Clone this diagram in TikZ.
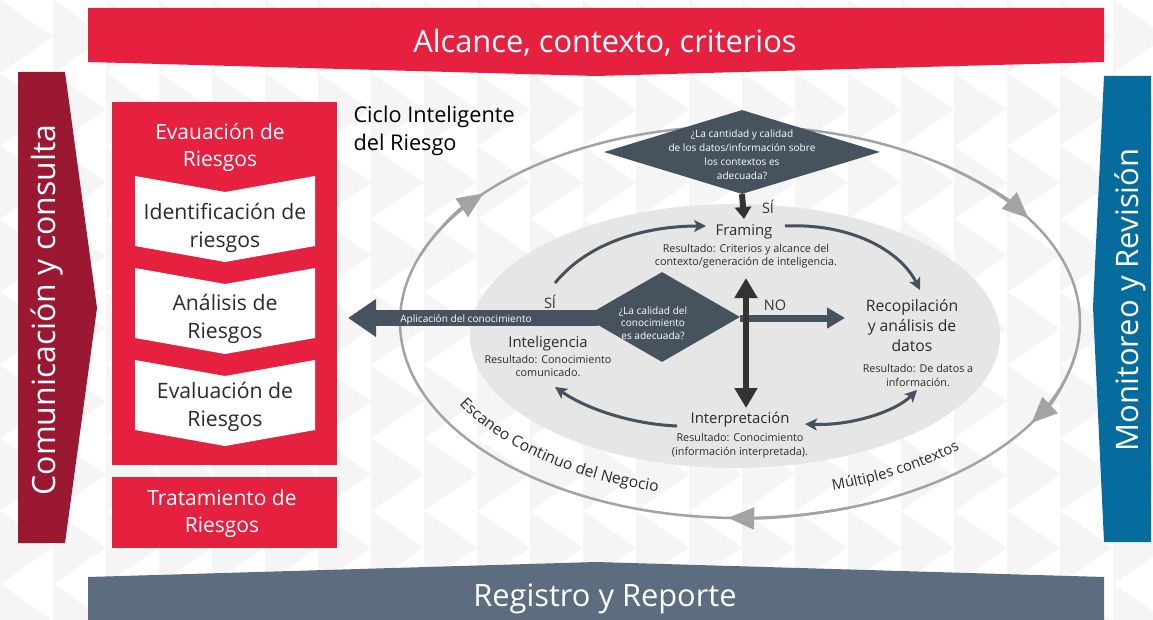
\documentclass[tikz,border=0pt]{standalone}
\usepackage{fontspec}
\setmainfont{Open Sans}
\usetikzlibrary{arrows.meta,decorations.text,shapes.geometric,calc}
\definecolor{cred}{HTML}{E5213F}
\definecolor{cdred}{HTML}{9A1832}
\definecolor{cblue}{HTML}{066B9D}
\definecolor{cslate}{HTML}{5B6D7F}
\definecolor{cdia}{HTML}{46525E}
\definecolor{cring}{HTML}{A3A3A3}
\definecolor{cinner}{HTML}{E6E6E6}
\definecolor{ctext}{HTML}{2B2B2B}
\definecolor{cblk}{HTML}{333333}
\definecolor{cpat}{HTML}{F5F5F5}
\newcommand{\fsz}[2]{\fontsize{#1}{#2}\selectfont}
\tikzset{
  bigtxt/.style={text=white, font=\fsz{30.8}{34}},
  boxtxt/.style={text=ctext, align=center, font=\fsz{21.2}{27.5}},
  redtxt/.style={text=white, align=center, font=\fsz{21}{27}},
  lbl/.style={text=ctext, align=center, font=\fsz{14.9}{20}},
  res/.style={text=ctext, align=center, font=\fsz{10.8}{13.5}},
  cyc/.style={draw=cdia, line width=3pt, -{Stealth[length=12pt,width=12pt,inset=3pt]}},
  ringarrow/.style={draw=cring, line width=2.5pt, -{Triangle[length=26pt,width=22pt]}},
}
\begin{document}
\begin{tikzpicture}[x=1pt,y=-1pt]
\useasboundingbox (0,0) rectangle (1153,620);
\fill[white] (0,0) rectangle (1153,620);
% background chevrons
\foreach \i in {0,...,21}{
  \foreach \j in {0,...,8}{
    \fill[cpat] (\i*53,\j*73) -- (\i*53+53,\j*73+36.5) -- (\i*53,\j*73+73) -- cycle;
  }
}
% banners
\fill[cred] (88,8) -- (1104,8) -- (1104,62) -- (596,76) -- (88,62) -- cycle;
\node[bigtxt] (alc) at (605,43) {Alcance, contexto, criterios};
\fill[cslate] (88,577) -- (596,562) -- (1104,577) -- (1104,620) -- (88,620) -- cycle;
\node[bigtxt] (reg) at (605,599) {Registro y Reporte};
\fill[cdred] (18,72) -- (65,72) -- (97,308) -- (65,543) -- (18,543) -- cycle;
\node[text=white, font=\fsz{32}{34}, rotate=90] (com) at (47,310) {Comunicación y consulta};
\fill[cblue] (1104,76) -- (1151,76) -- (1151,542) -- (1104,542) -- (1093,307) -- cycle;
\node[text=white, font=\fsz{31}{32}, rotate=90] (mon) at (1130,300) {Monitoreo y Revisión};
% left column
\fill[cred] (112,102) rectangle (337,465);
\node[redtxt] (eval) at (220,147) {Evauación de\\Riesgos};
\foreach \T in {176,268,360}{
  \fill[white] (135,\T) -- (225,\T+16) -- (315,\T) -- (315,\T+70) -- (225,\T+86) -- (135,\T+70) -- cycle;
}
\node[boxtxt] (b1) at (225,228) {Identificación de\\riesgos};
\node[boxtxt] (b2) at (225,319) {Análisis de\\Riesgos};
\node[boxtxt] (b3) at (225,407) {Evaluación de\\Riesgos};
\fill[cred] (112,477) rectangle (337,548);
\node[redtxt] (trat) at (222,514) {Tratamiento de\\Riesgos};
\node[anchor=west, align=left, text=black, font=\fsz{21.7}{28}] (ciclo) at (350,131) {Ciclo Inteligente\\del Riesgo};
% ring
\draw[cring, line width=2.5pt] (740,322) ellipse[x radius=340, y radius=196];
\foreach \a/\b in {200/221, 307/328, 10/31, 71/92}{
  \draw[ringarrow] (740,322) ++(\a:340 and 196) arc[start angle=\a, end angle=\b, x radius=340, y radius=196];
}
\path[decorate, decoration={text along path, text align=left,
  text={|\fsz{15.6}{17}\color{ctext}|Escaneo Continuo del Negocio}}]
  (740,322) ++(152:318 and 176) arc[start angle=152, end angle=80, x radius=318, y radius=176];
\path[decorate, decoration={text along path, text align=left,
  text={|\fsz{14.7}{17}\color{ctext}|Múltiples contextos}}]
  (740,322) ++(73:318 and 176) arc[start angle=73, end angle=20, x radius=318, y radius=176];
% inner ellipse
\fill[cinner] (735,336) ellipse[x radius=265, y radius=132];
% labels
\node[lbl] (framing) at (744,232) {Framing};
\node[res] (framingr) at (746,256) {Resultado: Criterios y alcance del\\contexto/generación de inteligencia.};
\node[lbl, font=\fsz{15.7}{20}] (recop) at (912,326) {Recopilación\\y análisis de\\datos};
\node[res, font=\fsz{10.8}{14}] (recopr) at (918,375) {Resultado: De datos a\\información.};
\node[lbl] (interp) at (740,420) {Interpretación};
\node[res, font=\fsz{10.8}{14}] (interpr) at (740,446) {Resultado: Conocimiento\\(información interpretada).};
\node[lbl] (intel) at (548,344) {Inteligencia};
\node[res] (intelr) at (548,366) {Resultado: Conocimiento\\comunicado.};
% cycle arrows
\coordinate (c1s) at (555,283);
\coordinate (c1e) at (706,226);
\draw[cyc] (c1s) .. controls (590,240) and (650,226) .. (c1e);
\coordinate (c2s) at (785,226);
\coordinate (c2e) at (920,290);
\draw[cyc] (c2s) .. controls (850,223) and (900,250) .. (c2e);
\coordinate (c3s) at (805,424);
\coordinate (c3e) at (917,390);
\draw[cyc, {Stealth[length=12pt,width=12pt,inset=3pt]}-{Stealth[length=12pt,width=12pt,inset=3pt]}] (c3s) .. controls (850,426) and (895,412) .. (c3e);
\coordinate (c4s) at (677,426);
\coordinate (c4e) at (555,387);
\draw[cyc] (c4s) .. controls (630,424) and (585,408) .. (c4e);
% top diamond
\node[diamond, fill=cdia, minimum width=276pt, minimum height=84pt, inner sep=0pt] (q1) at (742,152) {};
\node[text=white, align=center, font=\fsz{10.1}{14}] (q1t) at (742,155) {¿La cantidad y calidad\\de los datos/información sobre\\los contextos es\\adecuada?};
\coordinate (siend) at (744,219);
\draw[draw=cblk, line width=6pt, -{Triangle[length=12pt,width=16pt]}] (q1.south) -- (siend);
\node[text=cblk, font=\fsz{14.5}{16}] (si1) at (768,207) {SÍ};
% centre diamond
\node[diamond, fill=cdia, minimum width=156pt, minimum height=90pt, inner sep=0pt] (q2) at (662,317) {};
\node[text=white, align=center, font=\fsz{10.1}{12.5}] (q2t) at (653,323) {¿La calidad del\\conocimiento\\es adecuada?};
\coordinate (apl) at (348,318);
\draw[draw=cdia, line width=16pt, -{Triangle[length=28pt,width=36pt]}] ([xshift=14pt,yshift=-1pt]q2.west) -- (apl);
\node[text=white, font=\fsz{10.1}{12}] (aplt) at (466,320) {Aplicación del conocimiento};
\node[text=cblk, font=\fsz{14.5}{16}] (si2) at (550,302) {SÍ};
\coordinate (noend) at (845,318);
\draw[draw=cdia, line width=7pt, -{Triangle[length=18pt,width=20pt]}] ([yshift=-1pt]q2.east) -- (noend);
\node[text=cblk, font=\fsz{14.5}{16}] (no) at (775,305) {NO};
\coordinate (vt) at (746,278);
\coordinate (vb) at (746,408);
\draw[draw=cblk, line width=6.5pt, {Triangle[length=20pt,width=22pt]}-{Triangle[length=20pt,width=22pt]}] (vt) -- (vb);
\end{tikzpicture}
\end{document}
